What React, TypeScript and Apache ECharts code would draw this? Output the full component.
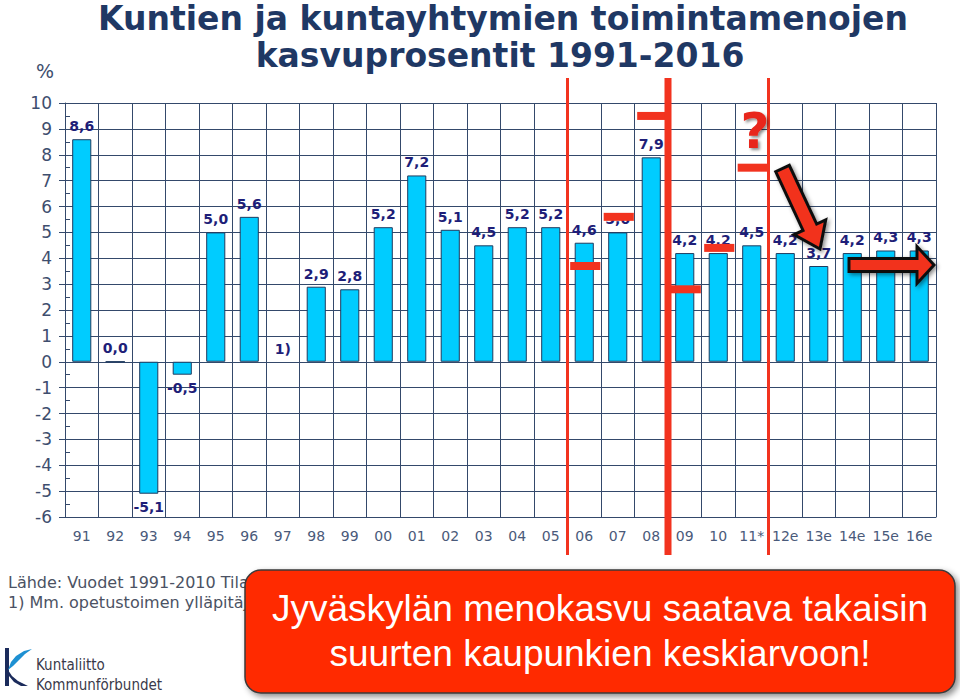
import React, { useEffect, useRef } from "react";
import * as echarts from "echarts";

const categories = ["91", "92", "93", "94", "95", "96", "97", "98", "99", "00", "01", "02", "03", "04", "05", "06", "07", "08", "09", "10", "11*", "12e", "13e", "14e", "15e", "16e"];
const growth: (number | null)[] = [8.6, 0.0, -5.1, -0.5, 5.0, 5.6, null, 2.9, 2.8, 5.2, 7.2, 5.1, 4.5, 5.2, 5.2, 4.6, 5.0, 7.9, 4.2, 4.2, 4.5, 4.2, 3.7, 4.2, 4.3, 4.3];
const notes: Record<string, string> = { "97": "1)" };
const jyvaskyla: (number | null)[] = [null, null, null, null, null, null, null, null, null, null, null, null, null, null, null, 3.7, 5.6, 9.5, 2.8, 4.4, 7.5, null, null, null, null, null];
const dividerBefore = ["06", "09", "12e"];
const yMin = -6;
const yMax = 10;
const titleLines = ["Kuntien ja kuntayhtymien toimintamenojen", "kasvuprosentit 1991-2016"];
const unitLabel = "%";
const sourceLines = ["Lähde: Vuodet 1991-2010 Tila", "1) Mm. opetustoimen ylläpitäjäm"];
const calloutLines = ["Jyväskylän menokasvu saatava takaisin", "suurten kaupunkien keskiarvoon!"];
const logoLines = ["Kuntaliitto", "Kommunförbundet"];

const fmt = (v: number) => v.toFixed(1).replace(".", ",");

const GRID = "#34496B";
const RED = "#F2331F";

function arrowPoints(tx: number, ty: number, px: number, py: number, half: number, headHalf: number, headLen: number) {
  const dx = px - tx;
  const dy = py - ty;
  const len = Math.hypot(dx, dy);
  const ux = dx / len, uy = dy / len;
  const nx = -uy, ny = ux;
  const hx = px - ux * headLen, hy = py - uy * headLen;
  return [
    [tx + nx * half, ty + ny * half],
    [hx + nx * half, hy + ny * half],
    [hx + nx * headHalf, hy + ny * headHalf],
    [px, py],
    [hx - nx * headHalf, hy - ny * headHalf],
    [hx - nx * half, hy - ny * half],
    [tx - nx * half, ty - ny * half],
  ];
}

export default function App() {
  const ref = useRef<HTMLDivElement>(null);
  useEffect(() => {
    document.body.style.margin = "0";
    const chart = echarts.init(ref.current!, undefined, { renderer: "svg" });

    const barData = growth.map((v) => {
      if (v == null) {
        return { value: 0, itemStyle: { color: "transparent", borderWidth: 0 }, label: { position: "top" } };
      }
      return { value: v, label: { position: v < 0 ? "bottom" : "top" } };
    });

    const arrowStyle = {
      fill: RED,
      stroke: "#111",
      lineWidth: 3,
      shadowBlur: 4,
      shadowOffsetX: 2,
      shadowOffsetY: 2,
      shadowColor: "rgba(0,0,0,0.45)",
    };

    const option: any = {
      animation: false,
      backgroundColor: "#ffffff",
      grid: { left: 65, right: 24, top: 103, bottom: 183 },
      xAxis: {
        type: "category",
        data: categories,
        boundaryGap: true,
        axisLine: { show: true, onZero: false, lineStyle: { color: GRID, width: 1 } },
        axisTick: { show: false },
        axisLabel: { color: "#4A5A7A", fontSize: 14, fontFamily: "DejaVu Sans", margin: 12, interval: 0 },
        splitLine: { show: true, interval: 0, lineStyle: { color: GRID, width: 1 } },
      },
      yAxis: {
        type: "value",
        min: yMin,
        max: yMax,
        interval: 1,
        axisLine: { show: true, lineStyle: { color: GRID, width: 1 } },
        axisTick: { show: true, length: 6, lineStyle: { color: GRID } },
        minorTick: { show: true, splitNumber: 2, length: -5, lineStyle: { color: GRID } },
        axisLabel: { color: "#3E4E6E", fontSize: 17, fontFamily: "DejaVu Sans", margin: 13 },
        splitLine: { show: true, lineStyle: { color: GRID, width: 1 } },
      },
      series: [
        {
          type: "bar",
          data: barData,
          barWidth: "57%",
          itemStyle: { color: "#00CCFF", borderColor: "#1F3B5F", borderWidth: 1 },
          label: {
            show: true,
            distance: 6,
            color: "#1E1E78",
            fontSize: 14,
            fontWeight: "bold",
            fontFamily: "DejaVu Sans",
            formatter: (p: any) => {
              const v = growth[p.dataIndex];
              if (v == null) return notes[categories[p.dataIndex]] ?? "";
              return fmt(v);
            },
          },
          z: 2,
        },
        {
          type: "custom",
          z: 10,
          clip: false,
          data: jyvaskyla.map((v, i) => (v == null ? null : [i, v])).filter((d) => d != null),
          renderItem: (params: any, api: any) => {
            const c = api.coord([api.value(0), api.value(1)]);
            const w = api.size([1, 0])[0] * 0.9;
            return {
              type: "rect",
              shape: { x: c[0] - w / 2 + 1, y: c[1] - 4, width: w, height: 8 },
              style: { fill: RED },
            };
          },
        },
        {
          type: "custom",
          z: 11,
          clip: false,
          data: dividerBefore.map((c) => [categories.indexOf(c), yMax]),
          renderItem: (params: any, api: any) => {
            const idx = api.value(0);
            const c = api.coord([idx, yMax]);
            const bottom = api.coord([idx, yMin])[1];
            const catW = api.size([1, 0])[0];
            const x = c[0] - catW / 2;
            const w = params.dataIndex === 1 ? 7 : 3;
            const top = c[1] - 25;
            const bot = bottom + 38;
            return {
              type: "rect",
              shape: { x: x - w / 2, y: top, width: w, height: bot - top },
              style: { fill: RED },
            };
          },
        },
      ],
      graphic: [
        {
          type: "text",
          x: 503,
          y: 2,
          z: 50,
          style: { text: titleLines[0], font: "bold 33px 'DejaVu Sans'", fill: "#1F3864", align: "center", verticalAlign: "top", lineHeight: 33 },
        },
        {
          type: "text",
          x: 500,
          y: 39,
          z: 50,
          style: { text: titleLines[1], font: "bold 33px 'DejaVu Sans'", fill: "#1F3864", align: "center", verticalAlign: "top", lineHeight: 33 },
        },
        {
          type: "text",
          x: 45,
          y: 71,
          z: 50,
          style: { text: unitLabel, font: "19px 'DejaVu Sans'", fill: "#3E4E6E", align: "center", verticalAlign: "middle" },
        },
        {
          type: "text",
          x: 8,
          y: 582,
          z: 50,
          style: { text: sourceLines[0], font: "16px 'DejaVu Sans'", fill: "#4B5263", verticalAlign: "middle", lineHeight: 16 },
        },
        {
          type: "text",
          x: 8,
          y: 602,
          z: 50,
          style: { text: sourceLines[1], font: "16px 'DejaVu Sans'", fill: "#4B5263", verticalAlign: "middle", lineHeight: 16 },
        },
        // logo
        {
          type: "group",
          z: 50,
          children: [
            { type: "rect", shape: { x: 5, y: 648, width: 4, height: 38 }, style: { fill: "#1B2B5B" } },
            {
              type: "polygon",
              shape: { points: [[32, 649], [24, 651], [16, 656], [11, 662], [8, 670], [13, 666], [19, 660], [25, 654]] },
              style: { fill: "#1E90D2" },
            },
            {
              type: "polygon",
              shape: { points: [[8, 670], [12, 676], [18, 681], [28, 686], [21, 686], [14, 682], [9, 676]] },
              style: { fill: "#1B2B5B" },
            },
            {
              type: "text",
              x: 36,
              y: 665,
              style: { text: logoLines[0], font: "15px 'DejaVu Sans Condensed', 'DejaVu Sans'", fill: "#3A3A4A", verticalAlign: "middle", lineHeight: 15 },
            },
            {
              type: "text",
              x: 36,
              y: 685,
              style: { text: logoLines[1], font: "15px 'DejaVu Sans Condensed', 'DejaVu Sans'", fill: "#3A3A4A", verticalAlign: "middle", lineHeight: 15 },
            },
          ],
        },
        // question mark
        {
          type: "text",
          x: 755,
          y: 131,
          z: 60,
          style: {
            text: "?",
            font: "bold 50px 'DejaVu Sans'",
            fill: "#E8251A",
            align: "center",
            verticalAlign: "middle",
            textShadowColor: "rgba(0,0,0,0.45)",
            textShadowBlur: 3,
            textShadowOffsetX: 2,
            textShadowOffsetY: 2,
          },
        },
        // arrows
        {
          type: "polygon",
          z: 60,
          shape: { points: arrowPoints(782.5, 168.5, 820, 249, 7.5, 17.5, 24) },
          style: arrowStyle,
        },
        {
          type: "polygon",
          z: 60,
          shape: { points: arrowPoints(849, 265, 934, 265, 6.5, 18.5, 17) },
          style: arrowStyle,
        },
        // callout box
        {
          type: "rect",
          z: 70,
          shape: { x: 245, y: 570, width: 710, height: 123, r: 16 },
          style: {
            fill: "#FF2A05",
            stroke: "#3A3A3A",
            lineWidth: 1.5,
            shadowBlur: 6,
            shadowOffsetX: 3,
            shadowOffsetY: 3,
            shadowColor: "rgba(0,0,0,0.45)",
          },
        },
        {
          type: "text",
          z: 71,
          x: 600,
          y: 608,
          style: { text: calloutLines[0], font: "37px 'Liberation Sans'", fill: "#ffffff", align: "center", verticalAlign: "middle" },
        },
        {
          type: "text",
          z: 71,
          x: 600,
          y: 653,
          style: { text: calloutLines[1], font: "37px 'Liberation Sans'", fill: "#ffffff", align: "center", verticalAlign: "middle" },
        },
      ],
    };
    chart.setOption(option);
    return () => chart.dispose();
  }, []);
  return <div ref={ref} style={{ position: "fixed", left: 0, top: 0, width: 960, height: 700 }} />;
}
